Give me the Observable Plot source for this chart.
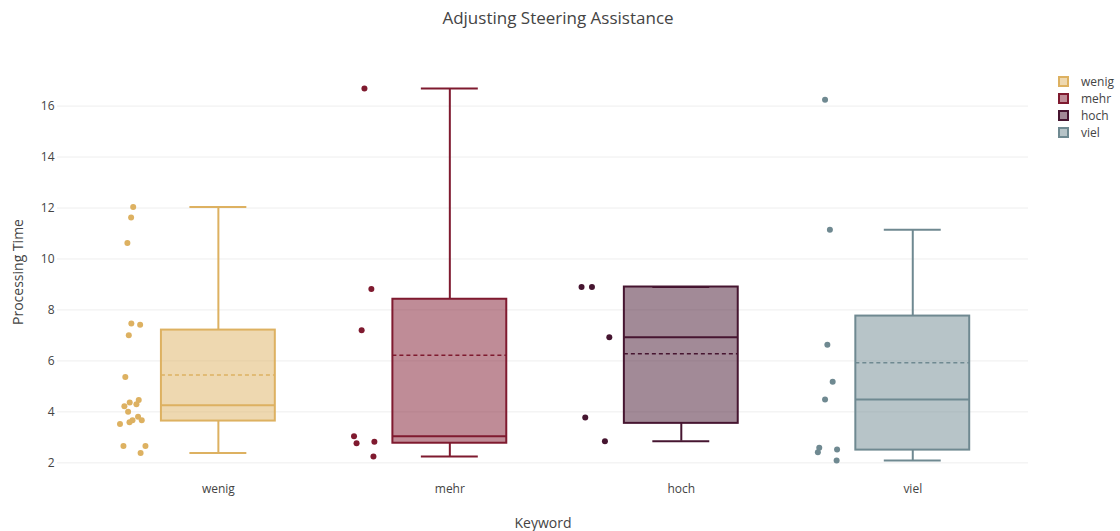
<!DOCTYPE html>
<html>
<head>
<meta charset="utf-8">
<script src="https://cdn.jsdelivr.net/npm/d3@7"></script>
<script src="https://cdn.jsdelivr.net/npm/@observablehq/plot@0.6"></script>
<style>
  body { margin: 0; background: #fff; font-family: "Open Sans", sans-serif; }
  #wrap { position: relative; width: 1120px; height: 531px; overflow: hidden; }
  #title { position: absolute; left: 0; width: 1116px; top: 7px; text-align: center; font-size: 17px; line-height: 22px; color: #444; }
  #xtitle { position: absolute; left: 443px; width: 200px; top: 513px; text-align: center; font-size: 14px; line-height: 20px; color: #444; }
  #ytitle { position: absolute; left: 18px; top: 272px; width: 200px; margin-left: -100px; margin-top: -10px; text-align: center; font-size: 14px; line-height: 20px; color: #444; transform: rotate(-90deg); }
  #legend { position: absolute; left: 1058px; top: 73px; font-size: 12px; color: #444; }
  .li { display: flex; align-items: center; height: 17px; }
  .sw { width: 11px; height: 11px; border: 2px solid; box-sizing: border-box; margin-right: 12px; }
  #chart { position: absolute; left: 0; top: 0; }
</style>
</head>
<body>
<div id="wrap">
  <div id="chart"></div>
  <div id="title">Adjusting Steering Assistance</div>
  <div id="xtitle">Keyword</div>
  <div id="ytitle">Processing Time</div>
  <div id="legend"></div>
</div>
<script>
// ---- data ----
const categories = ["wenig", "mehr", "hoch", "viel"];
const colors = ["#ddb161", "#7f1a2f", "#461530", "#6f8991"];
const yTicks = [2, 4, 6, 8, 10, 12, 14, 16];

const wenigValues = [12.04, 11.63, 10.63, 7.47, 7.42, 7.01, 5.37, 4.47, 4.37, 4.22, 4.30, 4.01, 3.81, 3.67, 3.67, 3.59, 3.52, 2.66, 2.66, 2.39];
const wenigJitter = [-0.368, -0.377, -0.393, -0.376, -0.338, -0.387, -0.402, -0.344, -0.383, -0.406, -0.354, -0.390, -0.347, -0.331, -0.371, -0.384, -0.425, -0.410, -0.315, -0.336];
const mehrValues = [16.69, 8.82, 7.20, 3.04, 2.77, 2.83, 2.25];
const mehrJitter = [-0.369, -0.339, -0.381, -0.414, -0.403, -0.326, -0.330];
const hochValues = [8.90, 8.90, 6.93, 3.78, 2.85];
const hochJitter = [-0.431, -0.386, -0.311, -0.415, -0.330];
const vielValues = [16.25, 11.15, 6.63, 5.18, 4.49, 2.59, 2.42, 2.52, 2.09];
const vielJitter = [-0.379, -0.358, -0.369, -0.346, -0.379, -0.404, -0.410, -0.327, -0.329];

// box statistics as drawn in the reference
const lowerWhiskers = [2.39, 2.25, 2.85, 2.09];
const q1s = [3.64, 2.77, 3.55, 2.50];
const medians = [4.26, 3.04, 6.93, 4.49];
const means = [5.45, 6.22, 6.28, 5.93];
const q3s = [7.21, 8.42, 8.90, 7.76];
const upperWhiskers = [12.04, 16.69, 8.90, 11.15];

// ---- build tables ----
const valueLists = [wenigValues, mehrValues, hochValues, vielValues];
const jitterLists = [wenigJitter, mehrJitter, hochJitter, vielJitter];
const points = valueLists.flatMap((vals, i) =>
  vals.map((v, k) => ({ cat: categories[i], i, x: i + jitterLists[i][k], y: v })));
const boxes = categories.map((c, i) => ({
  cat: c, i, lo: lowerWhiskers[i], q1: q1s[i], med: medians[i],
  mean: means[i], q3: q3s[i], hi: upperWhiskers[i]
}));

const HW = 0.246;   // half box width (category units)
const CW = 0.123;   // half cap width
const colorScale = { domain: categories, range: colors };

const chart = Plot.plot({
  width: 1120,
  height: 531,
  marginLeft: 57,
  marginRight: 92,
  marginTop: 75,
  marginBottom: 61,
  style: { fontFamily: "'Open Sans', sans-serif", fontSize: "12px", color: "#444", background: "transparent" },
  x: {
    type: "linear",
    domain: [-0.695, 3.5],
    ticks: [0, 1, 2, 3],
    tickFormat: d => categories[d],
    tickSize: 0,
    tickPadding: 14,
    label: null
  },
  y: {
    domain: [1.7, 17.2],
    ticks: yTicks,
    tickSize: 0,
    tickPadding: 3,
    label: null
  },
  color: colorScale,
  marks: [
    Plot.gridY(yTicks, { stroke: "#eee", strokeOpacity: 1, strokeWidth: 1 }),
    // whiskers
    Plot.ruleX(boxes, { x: "i", y1: "q3", y2: "hi", stroke: "cat", strokeWidth: 2 }),
    Plot.ruleX(boxes, { x: "i", y1: "lo", y2: "q1", stroke: "cat", strokeWidth: 2 }),
    Plot.ruleY(boxes, { y: "hi", x1: d => d.i - CW, x2: d => d.i + CW, stroke: "cat", strokeWidth: 2 }),
    Plot.ruleY(boxes, { y: "lo", x1: d => d.i - CW, x2: d => d.i + CW, stroke: "cat", strokeWidth: 2 }),
    // boxes
    Plot.rect(boxes, { x1: d => d.i - HW, x2: d => d.i + HW, y1: "q1", y2: "q3", fill: "cat", fillOpacity: 0.5, stroke: "cat", strokeWidth: 2 }),
    Plot.ruleY(boxes, { y: "med", x1: d => d.i - HW, x2: d => d.i + HW, stroke: "cat", strokeWidth: 2 }),
    Plot.ruleY(boxes, { y: "mean", x1: d => d.i - HW, x2: d => d.i + HW, stroke: "cat", strokeWidth: 1.5, strokeDasharray: "4,3" }),
    // points
    Plot.dot(points, { x: "x", y: "y", r: 3, fill: "cat", stroke: "none" })
  ]
});
document.getElementById("chart").appendChild(chart);

// legend
const leg = document.getElementById("legend");
categories.forEach((c, i) => {
  const row = document.createElement("div");
  row.className = "li";
  const sw = document.createElement("div");
  sw.className = "sw";
  sw.style.borderColor = colors[i];
  sw.style.background = d3.color(colors[i]).copy({ opacity: 0.5 }).formatRgb();
  const t = document.createElement("span");
  t.textContent = c;
  row.appendChild(sw);
  row.appendChild(t);
  leg.appendChild(row);
});
</script>
</body>
</html>
